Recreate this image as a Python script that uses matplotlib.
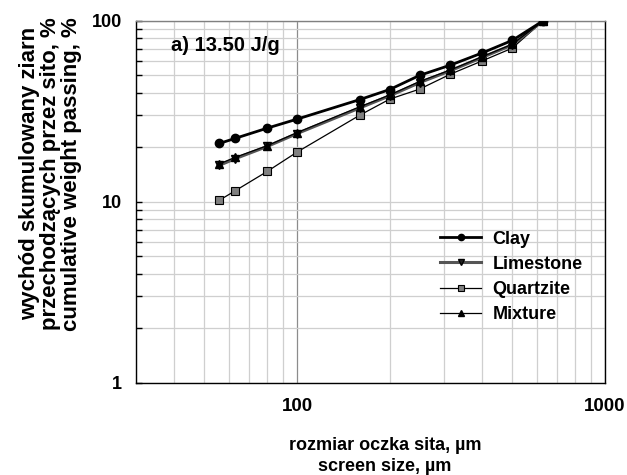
import numpy as np
import matplotlib.pyplot as plt
from matplotlib.ticker import LogLocator, NullFormatter, FixedLocator, FixedFormatter

plt.rcParams['font.family'] = ['Liberation Sans', 'DejaVu Sans']

# rozmiar oczka sita, um
sizes = [56, 63, 80, 100, 160, 200, 250, 315, 400, 500, 630]
clay = [21.0, 22.4, 25.5, 28.6, 36.7, 41.7, 49.9, 56.9, 66.5, 77.9, 100]
limestone = [15.9, 17.3, 20.2, 23.8, 33.0, 38.5, 45.5, 53.0, 62.8, 73.6, 100]
quartzite = [10.2, 11.5, 14.7, 18.8, 30.1, 36.9, 41.9, 50.7, 60.1, 70.6, 100]
mixture = [16.2, 17.6, 20.4, 24.1, 33.5, 38.9, 46.2, 53.5, 63.4, 74.2, 100]

fig = plt.figure(figsize=(6.27, 4.75), dpi=100)
ax = fig.add_axes([0.2169, 0.1943, 0.748, 0.762])

ax.plot(sizes, clay, color='black', lw=2.0, marker='o', ms=6,
        mfc='black', mec='black', label='Clay', zorder=5)
ax.plot(sizes, limestone, color='#555555', lw=2.2, marker='v', ms=6,
        mfc='#222222', mec='black', label='Limestone', zorder=4)
ax.plot(sizes, quartzite, color='black', lw=0.9, marker='s', ms=6,
        mfc='#808080', mec='black', mew=0.8, label='Quartzite', zorder=3)
ax.plot(sizes, mixture, color='black', lw=0.9, marker='^', ms=6,
        mfc='black', mec='black', label='Mixture', zorder=4)

ax.set_xscale('log')
ax.set_yscale('log')
ax.set_xlim(30, 1000)
ax.set_ylim(1, 100)

# siatka
ax.xaxis.set_major_locator(FixedLocator([100, 1000]))
ax.xaxis.set_major_formatter(FixedFormatter(['100', '1000']))
ax.xaxis.set_minor_locator(LogLocator(base=10, subs=np.arange(2, 10)))
ax.xaxis.set_minor_formatter(NullFormatter())
ax.yaxis.set_major_locator(FixedLocator([1, 10, 100]))
ax.yaxis.set_major_formatter(FixedFormatter(['1', '10', '100']))
ax.yaxis.set_minor_locator(LogLocator(base=10, subs=np.arange(2, 10)))
ax.yaxis.set_minor_formatter(NullFormatter())

ax.grid(True, which='minor', color='#cfcfcf', lw=0.9)
ax.grid(True, which='major', axis='x', color='#8c8c8c', lw=0.9)
ax.grid(True, which='major', axis='y', color='#cfcfcf', lw=0.9)
ax.set_axisbelow(True)

ax.tick_params(axis='x', which='both', length=0, pad=11, labelsize=13.5)
ax.tick_params(axis='y', which='both', direction='in', length=4,
               width=1, labelsize=13, pad=10)
for lab in ax.get_xticklabels() + ax.get_yticklabels():
    lab.set_fontweight('bold')

ax.spines['left'].set_color('black')
ax.spines['bottom'].set_color('black')
ax.spines['top'].set_color('#808080')
ax.spines['right'].set_color('black')
for s in ax.spines.values():
    s.set_linewidth(1.0)

ax.text(0.074, 0.933, 'a) 13.50 J/g', transform=ax.transAxes,
        fontsize=14.5, fontweight='bold', va='center', ha='left')

leg = ax.legend(loc='upper left', bbox_to_anchor=(0.648, 0.42), frameon=False,
                handlelength=2.3, handletextpad=0.6, labelspacing=0.45,
                borderaxespad=0, borderpad=0, markerscale=0.75,
                prop={'weight': 'bold', 'size': 13})

fig.text(0.081, 0.634, 'wychód skumulowany ziarn\nprzechodzących przez sito, %\ncumulative weight passing, %',
         rotation=90, ha='center', va='center', fontsize=16,
         fontweight='bold', linespacing=1.0)
fig.text(0.614, 0.04, 'rozmiar oczka sita, µm\nscreen size, µm',
         ha='center', va='center', fontsize=13, fontweight='bold',
         linespacing=1.3)

plt.savefig('out.png', dpi=100)
